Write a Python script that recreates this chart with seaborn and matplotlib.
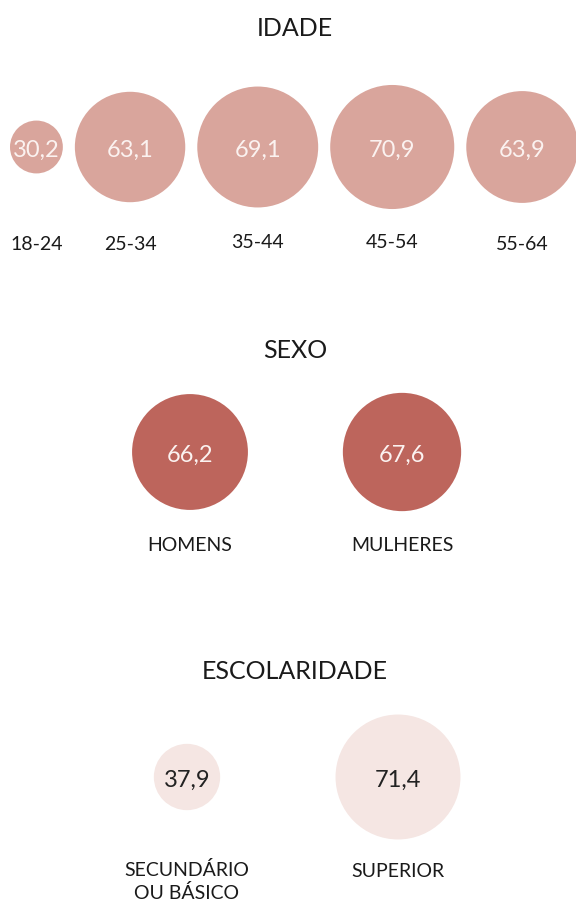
import matplotlib
matplotlib.use('Agg')
import matplotlib.pyplot as plt
import seaborn as sns
import pandas as pd

# Data
idade_labels = ['18-24', '25-34', '35-44', '45-54', '55-64']
idade_values = [30.2, 63.1, 69.1, 70.9, 63.9]

sexo_labels = ['HOMENS', 'MULHERES']
sexo_values = [66.2, 67.6]

escol_labels = ['SECUNDÁRIO\nOU BÁSICO', 'SUPERIOR']
escol_values = [37.9, 71.4]

# Layout (pixel coordinates)
px_per_unit = 1.75  # circle diameter in px per value unit
gap = 12

idade_x = []
edge = 10
for v in idade_values:
    r = v * px_per_unit / 2
    idade_x.append(edge + r)
    edge += 2 * r + gap

sections = [
    dict(title='IDADE', title_y=29, labels=idade_labels, values=idade_values,
         xs=idade_x, cy=148, label_y=[244, 244, 242, 242, 244], color='#D9A59C', txt='#FBF2F0'),
    dict(title='SEXO', title_y=351, labels=sexo_labels, values=sexo_values,
         xs=[190, 402], cy=453, label_y=[546, 546], color='#BD655C', txt='#FBF2F0'),
    dict(title='ESCOLARIDADE', title_y=672, labels=escol_labels, values=escol_values,
         xs=[187, 398], cy=778, label_y=[872, 872], color='#F5E6E3', txt='#222222'),
]

rows = []
for s in sections:
    for lab, v, x in zip(s['labels'], s['values'], s['xs']):
        d_pt = v * px_per_unit * 0.72
        rows.append(dict(group=s['title'], label=lab, value=v, x=x, y=s['cy'], area=d_pt ** 2))
df = pd.DataFrame(rows)

sns.set_theme(style='white')
plt.rcParams['font.family'] = ['Lato', 'DejaVu Sans']

fig = plt.figure(figsize=(5.76, 9.04), dpi=100)
ax = fig.add_axes([0, 0, 1, 1])

amin, amax = df['area'].min(), df['area'].max()
sns.scatterplot(data=df, x='x', y='y', hue='group', size='area',
                sizes=(amin, amax), size_norm=(amin, amax),
                palette={s['title']: s['color'] for s in sections},
                linewidth=0, legend=False, ax=ax, zorder=2)

ax.set_xlim(0, 576)
ax.set_ylim(904, 0)
ax.set_axis_off()

for s in sections:
    ax.text(295, s['title_y'], s['title'], ha='center', va='center',
            fontsize=18, color='#1a1a1a')
    for lab, v, x, ly in zip(s['labels'], s['values'], s['xs'], s['label_y']):
        ax.text(x, s['cy'] + 2, f'{v:.1f}'.replace('.', ','), ha='center', va='center',
                fontsize=17, color=s['txt'], zorder=3)
        if '\n' in lab:
            ax.text(x, ly - 11, lab, ha='center', va='top',
                    fontsize=14, color='#1a1a1a', linespacing=1.35)
        else:
            ax.text(x, ly, lab, ha='center', va='center',
                    fontsize=14, color='#1a1a1a')

fig.savefig('out.png', dpi=100)
